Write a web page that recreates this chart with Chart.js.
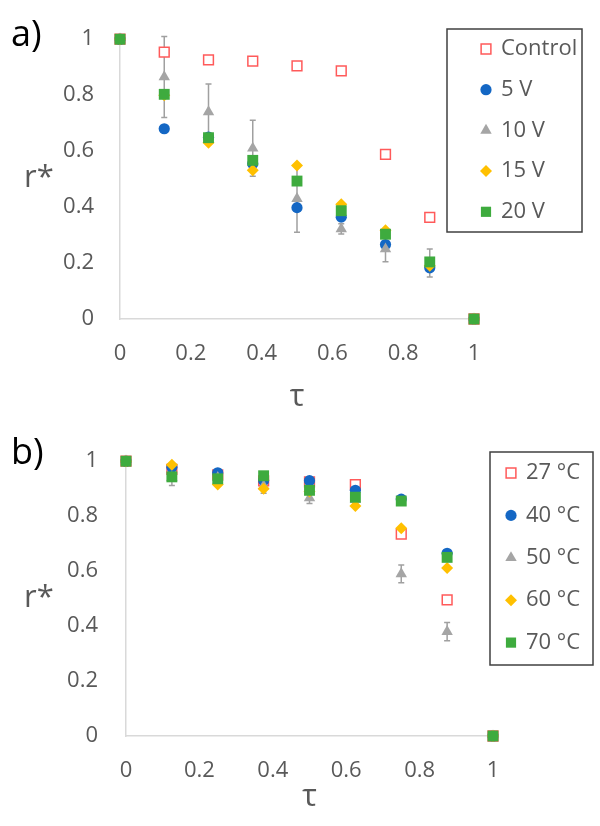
<!DOCTYPE html>
<html>
<head>
<meta charset="utf-8">
<script src="https://cdn.jsdelivr.net/npm/chart.js@4/dist/chart.umd.min.js"></script>
<style>
  html, body { margin: 0; padding: 0; background: #fff; }
  #wrap { position: relative; width: 600px; height: 826px; }
  canvas { position: absolute; left: 0; }
</style>
</head>
<body>
<div id="wrap">
  <canvas id="ca" width="600" height="420" style="top:0"></canvas>
  <canvas id="cb" width="600" height="406" style="top:420px"></canvas>
</div>
<script>
// ---------- data ----------
const tau = [0, 0.125, 0.25, 0.375, 0.5, 0.625, 0.75, 0.875, 1];
const xTickLabels = ['0', '0.2', '0.4', '0.6', '0.8', '1'];
const yTickLabels = ['0', '0.2', '0.4', '0.6', '0.8', '1'];

// panel a) voltage
const labelsA = ['Control', '5 V', '10 V', '15 V', '20 V'];
const control = [1, 0.954, 0.926, 0.922, 0.905, 0.887, 0.588, 0.363, 0];
const v5      = [1, 0.680, 0.650, 0.555, 0.398, 0.364, 0.266, 0.183, 0];
const v10     = [1, 0.865, 0.740, 0.610, 0.430, 0.322, 0.250, 0.200, 0];
const v10Err  = [0, 0.145, 0.100, 0.100, 0.120, 0.018, 0.045, 0.050, 0];
const v15     = [1, 0.800, 0.630, 0.532, 0.549, 0.410, 0.317, 0.190, 0];
const v20     = [1, 0.803, 0.648, 0.567, 0.493, 0.387, 0.303, 0.204, 0];

// panel b) temperature
const labelsB = ['27 °C', '40 °C', '50 °C', '60 °C', '70 °C'];
const c27    = [1, 0.970, 0.950, 0.928, 0.925, 0.915, 0.735, 0.495, 0];
const c40    = [1, 0.978, 0.958, 0.930, 0.929, 0.894, 0.862, 0.665, 0];
const c50    = [1, 0.940, 0.940, 0.910, 0.866, 0.860, 0.590, 0.380, 0];
const c50Err = [0, 0.028, 0.030, 0.027, 0.020, 0.015, 0.032, 0.033, 0];
const c60    = [1, 0.987, 0.915, 0.900, 0.890, 0.837, 0.756, 0.611, 0];
const c70    = [1, 0.943, 0.936, 0.947, 0.894, 0.869, 0.855, 0.650, 0];

// ---------- styles ----------
const FONT = "'Open Sans', 'Noto Sans', sans-serif";
const TXT = '#595959';
const styles = [
  { pointStyle: 'rect',    radius: 6.9, bg: '#ffffff', border: '#ff5a5a', bw: 1.5 },
  { pointStyle: 'circle',  radius: 5.6, bg: '#1467c4', border: '#1467c4', bw: 0 },
  { pointStyle: 'triangle',radius: 6.6, bg: '#a5a5a5', border: '#a5a5a5', bw: 0 },
  { pointStyle: 'rectRot', radius: 6.0, bg: '#ffc000', border: '#ffc000', bw: 0 },
  { pointStyle: 'rect',    radius: 7.7, bg: '#3eab3e', border: '#3eab3e', bw: 0 }
];

function pts(ys) { return tau.map((x, i) => ({ x: x, y: ys[i] })); }

function makeDatasets(labels, series, errIndex, errs) {
  return series.map((ys, k) => ({
    label: labels[k],
    data: pts(ys),
    pointStyle: styles[k].pointStyle,
    pointRadius: styles[k].radius,
    pointHoverRadius: styles[k].radius,
    backgroundColor: styles[k].bg,
    borderColor: styles[k].border,
    pointBorderWidth: styles[k].bw,
    borderWidth: styles[k].bw,
    showLine: false,
    clip: false,
    order: series.length - k,
    errorBars: k === errIndex ? errs : null
  }));
}

// error bars drawn through the chart scales
const errorBarPlugin = {
  id: 'errorBars',
  beforeDatasetsDraw(chart) {
    const ctx = chart.ctx;
    const xs = chart.scales.x, ys = chart.scales.y;
    chart.data.datasets.forEach(ds => {
      if (!ds.errorBars) return;
      ctx.save();
      ctx.strokeStyle = '#a0a0a0';
      ctx.lineWidth = 1.5;
      ds.data.forEach((p, i) => {
        const e = ds.errorBars[i];
        if (!e) return;
        const px = xs.getPixelForValue(p.x);
        const yt = ys.getPixelForValue(p.y + e);
        const yb = ys.getPixelForValue(p.y - e);
        ctx.beginPath();
        ctx.moveTo(px, yt); ctx.lineTo(px, yb);
        ctx.moveTo(px - 3, yt); ctx.lineTo(px + 3, yt);
        ctx.moveTo(px - 3, yb); ctx.lineTo(px + 3, yb);
        ctx.stroke();
      });
      ctx.restore();
    });
  }
};

// boxed legend + panel letter + r* label
const panelPlugin = {
  id: 'panelDecor',
  afterDraw(chart, args, o) {
    const ctx = chart.ctx;
    ctx.save();
    ctx.fillStyle = '#000';
    ctx.font = '36px ' + FONT;
    ctx.textAlign = 'left';
    ctx.textBaseline = 'middle';
    ctx.fillText(o.letter, o.letterX, o.letterY);
    ctx.fillStyle = TXT;
    ctx.font = '31px ' + FONT;
    ctx.fillText('r*', o.rX, o.rY);
    const L = o.legend;
    ctx.strokeStyle = '#404040';
    ctx.lineWidth = 1.5;
    ctx.fillStyle = '#fff';
    ctx.fillRect(L.left, L.top, L.right - L.left, L.bottom - L.top);
    ctx.strokeRect(L.left, L.top, L.right - L.left, L.bottom - L.top);
    chart.data.datasets.forEach((ds, i) => {
      const y = L.firstY + i * L.step;
      ctx.fillStyle = ds.backgroundColor;
      ctx.strokeStyle = ds.borderColor;
      ctx.lineWidth = ds.pointBorderWidth || 0;
      Chart.helpers.drawPoint(ctx, {
        pointStyle: ds.pointStyle, radius: Math.min(ds.pointRadius, 7.2),
        rotation: 0, borderWidth: ds.pointBorderWidth
      }, L.markerX, y);
      ctx.fillStyle = TXT;
      ctx.font = '22px ' + FONT;
      ctx.textAlign = 'left';
      ctx.textBaseline = 'middle';
      ctx.fillText(ds.label, L.textX, y);
    });
    ctx.restore();
  }
};

function makeChart(id, datasets, geo) {
  return new Chart(document.getElementById(id), {
    type: 'scatter',
    data: { datasets: datasets },
    plugins: [errorBarPlugin, panelPlugin],
    options: {
      responsive: false,
      animation: false,
      events: [],
      layout: { padding: { left: 0, top: geo.top, right: geo.right, bottom: 0 } },
      plugins: {
        legend: { display: false },
        tooltip: { enabled: false },
        panelDecor: geo.decor
      },
      scales: {
        x: {
          type: 'linear', min: 0, max: 1,
          afterFit: s => { s.height = geo.xHeight; },
          afterBuildTicks: s => { s.ticks = xTickLabels.map(t => ({ value: parseFloat(t) })); },
          ticks: {
            padding: 22, color: TXT, font: { family: FONT, size: 22 },
            maxRotation: 0, autoSkip: false,
            callback: (v, i) => xTickLabels[i]
          },
          grid: { display: false, drawTicks: false },
          border: { display: true, color: '#d9d9d9', width: 1.5 },
          title: {
            display: true, text: 'τ', color: TXT,
            font: { family: FONT, size: 31 },
            padding: { top: 0, bottom: geo.tauPad }
          }
        },
        y: {
          type: 'linear', min: 0, max: 1,
          afterFit: s => { s.width = geo.yWidth; },
          afterBuildTicks: s => { s.ticks = yTickLabels.map(t => ({ value: parseFloat(t) })); },
          ticks: {
            padding: geo.yPad, color: TXT, font: { family: FONT, size: 22 },
            autoSkip: false,
            callback: (v, i) => yTickLabels[i]
          },
          grid: { display: false, drawTicks: false },
          border: { display: true, color: '#d9d9d9', width: 1.5 }
        }
      }
    }
  });
}

makeChart('ca', makeDatasets(labelsA, [control, v5, v10, v15, v20], 2, v10Err), {
  top: 35, right: 126, xHeight: 101, yWidth: 120, yPad: 26, tauPad: 4,
  decor: {
    letter: 'a)', letterX: 11, letterY: 36, rX: 24, rY: 178,
    legend: { left: 447, top: 29, right: 582, bottom: 232,
              firstY: 49, step: 40.7, markerX: 486, textX: 501 }
  }
});

makeChart('cb', makeDatasets(labelsB, [c27, c40, c50, c60, c70], 2, c50Err), {
  top: 33, right: 107, xHeight: 90, yWidth: 126, yPad: 28, tauPad: 10,
  decor: {
    letter: 'b)', letterX: 11, letterY: 34, rX: 24, rY: 178,
    legend: { left: 490, top: 32, right: 593, bottom: 245,
              firstY: 53, step: 42.4, markerX: 511, textX: 526 }
  }
});
</script>
</body>
</html>
